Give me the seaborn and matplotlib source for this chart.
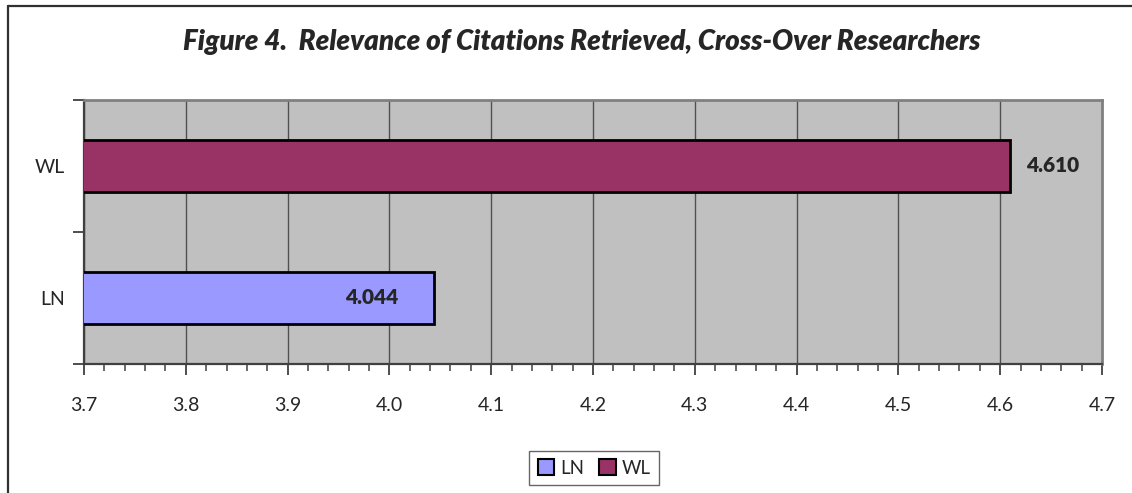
import matplotlib
matplotlib.use("Agg")
import matplotlib.pyplot as plt
import seaborn as sns
import pandas as pd
from matplotlib.patches import Patch
from matplotlib.lines import Line2D
from matplotlib.ticker import MultipleLocator, FixedLocator

# ---- data ----
categories = ["WL", "LN"]            # top to bottom
values = [4.610, 4.044]
value_labels = ["4.610", "4.044"]
legend_order = ["LN", "WL"]
colors = {"LN": "#9999FF", "WL": "#993366"}
xticks = [3.7, 3.8, 3.9, 4.0, 4.1, 4.2, 4.3, 4.4, 4.5, 4.6, 4.7]
xtick_labels = ["3.7", "3.8", "3.9", "4.0", "4.1", "4.2", "4.3", "4.4", "4.5", "4.6", "4.7"]
title = "Figure 4.  Relevance of Citations Retrieved, Cross-Over Researchers"

df = pd.DataFrame({"system": categories, "score": values})

sns.set_theme(style="white")
plt.rcParams["font.family"] = ["Lato", "DejaVu Sans"]

W, H = 1132, 493
fig = plt.figure(figsize=(W / 100, H / 100), dpi=100)
ax = fig.add_axes([84 / W, 1 - 364 / H, (1102 - 84) / W, (364 - 100) / H])

ax.set_facecolor("#C0C0C0")
sns.barplot(data=df, y="system", x="score", hue="system", order=categories,
            palette=colors, orient="h", width=0.4, dodge=False, saturation=1,
            edgecolor="black", linewidth=2, legend=False, ax=ax, zorder=3)

ax.set_xlim(3.7, 4.7)
ax.set_ylim(1.5, -0.5)

ax.set_xticks(xticks)
ax.set_xticklabels(xtick_labels, fontsize=14)
ax.xaxis.set_minor_locator(MultipleLocator(0.02))
ax.tick_params(axis="x", which="major", direction="out", length=8, width=1.3,
               color="#404040", pad=16, bottom=True)
ax.tick_params(axis="x", which="minor", direction="out", length=5, width=1.1,
               color="#404040", bottom=True)

ax.set_yticks([0, 1])
ax.set_yticklabels(categories, fontsize=14)
ax.yaxis.set_minor_locator(FixedLocator([-0.5, 0.5, 1.5]))
ax.tick_params(axis="y", which="major", length=0, pad=14)
ax.tick_params(axis="y", which="minor", direction="out", length=8, width=1.3,
               color="#404040", left=True)

ax.grid(axis="x", which="major", color="#505050", linewidth=1.0, zorder=1)
ax.grid(axis="y", visible=False)
ax.set_axisbelow(True)
ax.set_xlabel("")
ax.set_ylabel("")

for side in ["left", "bottom"]:
    ax.spines[side].set_color("#404040")
    ax.spines[side].set_linewidth(1.6)
for side in ["top", "right"]:
    ax.spines[side].set_color("#808080")
    ax.spines[side].set_linewidth(2.0)

# value labels
for i, (v, lab) in enumerate(zip(values, value_labels)):
    if i == 0:
        ax.annotate(lab, xy=(v, i), xytext=(16, 0), textcoords="offset pixels",
                    ha="left", va="center", fontsize=15, fontweight="heavy", zorder=5)
    else:
        ax.annotate(lab, xy=(v, i), xytext=(-36, 0), textcoords="offset pixels",
                    ha="right", va="center", fontsize=15, fontweight="heavy", zorder=5)

# legend
handles = [Patch(facecolor=colors[k], edgecolor="black", linewidth=1.5, label=k)
           for k in legend_order]
leg = fig.legend(handles=handles, loc="center", bbox_to_anchor=(594 / W, 1 - 468 / H),
                 ncol=2, frameon=True, fancybox=False, fontsize=13.5,
                 handlelength=0.9, handleheight=0.9, handletextpad=0.3,
                 columnspacing=0.8, borderpad=0.45, borderaxespad=0)
leg.get_frame().set_edgecolor("#404040")
leg.get_frame().set_linewidth(1.0)

# title
fig.text(582 / W, 1 - 42 / H, title, ha="center", va="center", fontsize=20,
         fontweight="heavy", fontstyle="italic")

# outer chart border (left and top visible)
fig.add_artist(Line2D([8 / W, 8 / W], [0, 1 - 6 / H], transform=fig.transFigure,
                      color="#303030", linewidth=1.6))
fig.add_artist(Line2D([8 / W, 1], [1 - 6 / H, 1 - 6 / H], transform=fig.transFigure,
                      color="#303030", linewidth=1.6))

fig.savefig("out.png", dpi=100, facecolor="white")
